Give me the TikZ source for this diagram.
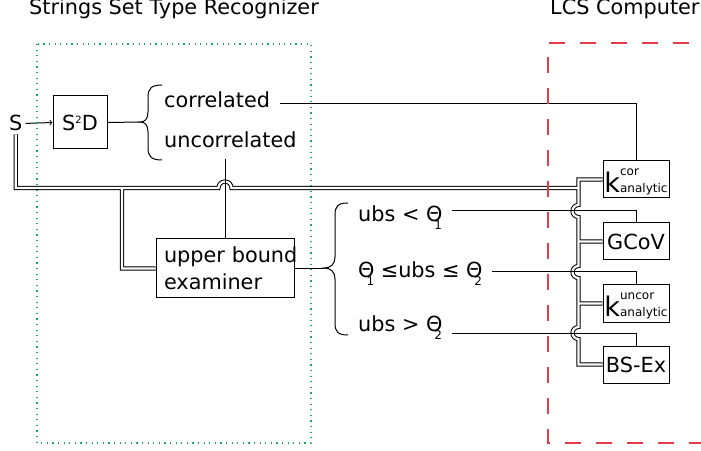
\documentclass[tikz,border=0pt]{standalone}
\usepackage{fontspec}
\setmainfont{DejaVu Sans}
\usetikzlibrary{positioning,calc}
\definecolor{srgreen}{RGB}{30,170,90}
\definecolor{lcsred}{RGB}{228,60,75}
\newcommand{\thsub}[1]{Θ\kern-8pt\raisebox{-8pt}{\fontsize{12}{12}\selectfont #1}}
\newcommand{\kana}[1]{{\fontsize{27}{27}\selectfont k}\rlap{\raisebox{17pt}{\fontsize{12}{12}\selectfont #1}}{\fontsize{12}{12}\selectfont analytic}}
\tikzset{
  blk/.style={draw, line width=1pt, minimum width=66pt, minimum height=37pt, inner sep=1pt},
  kblk/.style={blk, text height=31pt, text depth=4pt},
  lbl/.style={anchor=base west, inner sep=0pt},
  wire/.style={line width=1pt},
  bus/.style={double, line width=1pt, double distance=2.2pt},
}
\begin{document}
\begin{tikzpicture}[x=1pt, y=1pt, font=\fontsize{20.8}{27}\selectfont]
\clip (0,0) rectangle (701,450);
% titles
\node[lbl] (ttlA) at (29,435) {Strings Set Type Recognizer};
\node[lbl] (ttlB) at (550,435) {LCS Computer};
% recognizer
\node[lbl, inner sep=3pt] (s) at (6,319) {S};
\node[blk, minimum width=54pt, minimum height=53pt] (s2d) at (80,327.5) {S\raisebox{7pt}{\fontsize{10}{10}\selectfont 2}D};
\node[lbl] (cor) at (164,342) {correlated};
\node[lbl] (uncor) at (164,302) {uncorrelated};
\node[draw, line width=1pt, minimum width=138pt, minimum height=59pt, inner xsep=0.5pt, text width=137pt, align=left] (ube) at (225,181.5) {\hspace*{7.5pt}\makebox[128pt][l]{upper bound}\\\hspace*{7.5pt}examiner};
\node[lbl] (ubsA) at (358,228) {ubs < \thsub{1}};
\node[lbl] (ubsB) at (358,172) {\thsub{1} ≤ubs ≤ \thsub{2}};
\node[lbl] (ubsC) at (358,118) {ubs > \thsub{2}};
% computers
\node[kblk] (kcor) at (636,270.5) {\kana{cor}};
\node[blk] (gcov) at (636,208.5) {GCoV};
\node[kblk] (kuncor) at (636,146.5) {\kana{uncor}};
\node[blk] (bsex) at (636,85.5) {BS-Ex};
% braces
\draw[wire] (162,365) .. controls (152,365) and (148,362) .. (148,353) -- (148,338) .. controls (148,331) and (145,328) .. (140,328) coordinate (tipA) .. controls (145,328) and (148,325) .. (148,318) -- (148,302) .. controls (148,293) and (152,290) .. (162,290);
\draw[wire] (348,247) .. controls (338,247) and (335,244) .. (335,235) -- (335,193) .. controls (335,186) and (331,182) .. (324,182) coordinate (tipB) .. controls (331,182) and (335,178) .. (335,171) -- (335,127) .. controls (335,118) and (338,115) .. (348,115);
% string bus
\coordinate (jA) at (578.5,262);
\draw[bus] (s.south) |- (218.5,262) arc[start angle=180, end angle=0, radius=6.5pt] -- (jA)
  (kcor.west) -| (578.5,245) arc[start angle=90, end angle=270, radius=6pt]
  -- (578.5,184) arc[start angle=90, end angle=270, radius=6pt]
  -- (578.5,123) arc[start angle=90, end angle=270, radius=6pt] |- (bsex.west)
  (gcov.west -| jA) -- (gcov.west)
  (kuncor.west -| jA) -- (kuncor.west)
  (122,262) |- (ube.west);
% connectors
\draw[wire, ->] (s.east) -- (s2d.west);
\draw[wire] (s2d.east) -- (tipA);
\draw[wire] (ube.east) -- (ube.east -| tipB);
\draw[wire] ($(ube.north |- uncor.base)+(0,-11)$) -- (ube.north);
\draw[wire] ([xshift=10pt, yshift=4pt]cor.base east) -| (kcor.north);
\draw[wire] ([xshift=10pt, yshift=11pt]ubsA.base east) -| (gcov.north);
\draw[wire] ([xshift=10pt, yshift=6pt]ubsB.base east) -| (kuncor.north);
\draw[wire] ([xshift=10pt, yshift=-1pt]ubsC.base east) -| (bsex.north);
% frames
\draw[srgreen, line width=1.2pt, dash pattern=on 1.2pt off 4.4pt] (37,406) rectangle (311,7);
\draw[lcsred, line width=1.3pt, dash pattern=on 16pt off 15pt] (720,407) -- (548,407) -- (548,7) -- (720,7);
\end{tikzpicture}
\end{document}
